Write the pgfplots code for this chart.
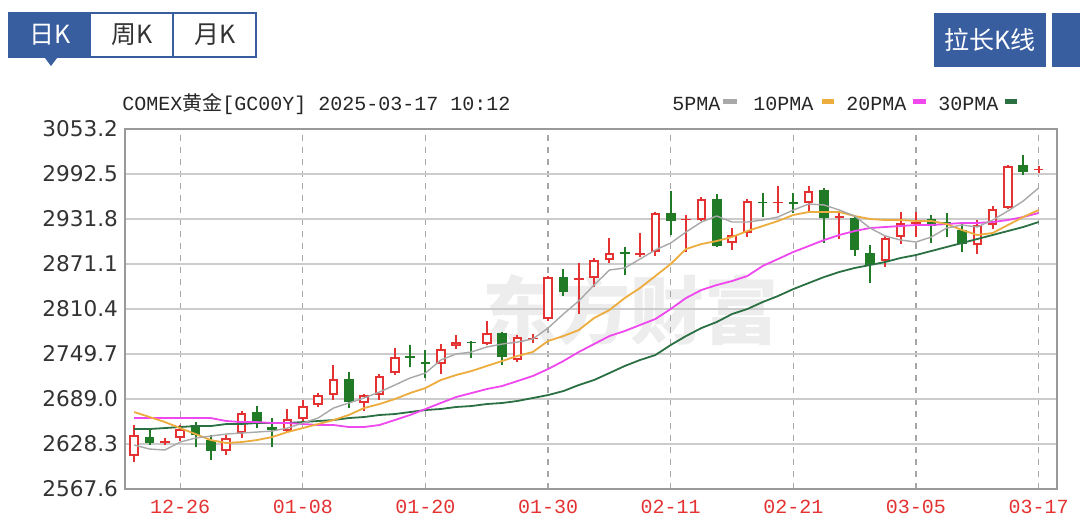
\documentclass[border=0pt]{standalone}
\usepackage{fontspec}
\usepackage{pgfplots}
\usepackage{pgfplotstable}
\pgfplotsset{compat=1.18}
\setmainfont{DejaVu Sans}
\newfontfamily\cjk{Noto Sans CJK SC}
\newfontfamily\mono{Liberation Mono}
\definecolor{cred}{RGB}{228,50,50}
\definecolor{cgreen}{RGB}{32,122,38}
\definecolor{ma5c}{RGB}{168,168,168}
\definecolor{ma10c}{RGB}{236,172,62}
\definecolor{ma20c}{RGB}{238,72,238}
\definecolor{ma30c}{RGB}{42,112,66}
\definecolor{tabblue}{RGB}{56,94,160}

\pgfplotstableread{
i ma5 ma10 ma20 ma30
0 2626.9 2671.4 2663.3 2648.5
1 2621.5 2664.7 2663.3 2648.5
2 2620.2 2657.9 2663.3 2649.8
3 2630.9 2649.8 2663.3 2651.2
4 2636.3 2641.7 2663.3 2652.5
5 2639.0 2633.6 2663.3 2652.5
6 2641.7 2629.6 2659.3 2655.2
7 2643.1 2630.9 2657.9 2655.2
8 2644.4 2633.6 2657.9 2656.6
9 2645.8 2637.7 2656.6 2656.6
10 2649.8 2644.4 2656.6 2656.6
11 2656.6 2649.8 2655.2 2657.9
12 2663.3 2655.2 2653.9 2659.3
13 2676.8 2660.6 2653.9 2660.6
14 2683.6 2667.4 2651.2 2663.3
15 2690.3 2676.8 2651.2 2664.7
16 2698.4 2682.2 2653.9 2667.4
17 2707.8 2688.9 2660.6 2668.7
18 2717.3 2697.0 2667.4 2671.4
19 2724.0 2703.8 2675.5 2674.1
20 2741.6 2714.6 2683.6 2675.5
21 2749.7 2721.3 2691.6 2678.2
22 2752.4 2726.7 2697.0 2679.5
23 2759.1 2733.5 2702.4 2682.2
24 2763.1 2740.2 2706.5 2683.6
25 2765.8 2747.0 2713.2 2686.3
26 2769.9 2752.4 2720.0 2690.3
27 2784.7 2767.2 2729.4 2694.3
28 2803.6 2773.9 2740.2 2699.7
29 2821.2 2782.0 2752.4 2707.8
30 2842.7 2798.2 2763.1 2714.6
31 2863.0 2809.0 2773.9 2724.0
32 2865.7 2825.2 2780.7 2733.5
33 2877.8 2838.7 2788.8 2741.6
34 2890.0 2854.9 2796.9 2748.3
35 2899.4 2871.1 2810.4 2761.8
36 2914.2 2891.3 2825.2 2773.9
37 2927.7 2898.0 2836.0 2784.7
38 2935.8 2902.1 2842.7 2792.8
39 2927.7 2907.5 2848.1 2803.6
40 2927.7 2915.6 2854.9 2810.4
41 2930.4 2922.3 2868.4 2819.8
42 2934.5 2929.1 2877.8 2827.9
43 2943.9 2937.2 2887.3 2837.3
44 2952.0 2941.2 2895.3 2845.4
45 2950.7 2941.2 2903.4 2853.5
46 2943.9 2941.2 2910.2 2860.3
47 2935.8 2935.8 2915.6 2865.7
48 2919.6 2931.8 2919.6 2869.7
49 2908.8 2930.4 2921.0 2873.8
50 2903.4 2930.4 2922.3 2879.2
51 2900.7 2929.1 2923.7 2883.2
52 2907.5 2929.1 2923.7 2888.6
53 2919.6 2925.0 2925.0 2894.0
54 2923.7 2916.9 2926.4 2899.4
55 2921.0 2910.2 2926.4 2904.8
56 2930.4 2912.9 2927.7 2910.2
57 2942.6 2923.7 2930.4 2915.6
58 2956.1 2934.5 2934.5 2921.0
59 2973.6 2943.9 2939.9 2927.7
}\matable

% candle: index, open, high, low, close
\newcommand\candle[5]{%
  \pgfmathsetmacro\cLo{min(#2,#5)}%
  \pgfmathsetmacro\cHi{max(#2,#5)}%
  \pgfmathsetmacro\cDiff{max(#2,#5)-min(#2,#5)}%
  \ifdim #5pt<#2pt
    \edef\doplot{%
      \noexpand\addplot[cgreen, line width=1pt, mark=none] coordinates {(#1,#4) (#1,#3)};
      \noexpand\addplot[cgreen, line width=4.8pt, mark=none] coordinates {(#1,\cLo) (#1,\cHi)};}%
  \else
    \ifdim \cDiff pt>3.5pt
      \edef\doplot{%
        \noexpand\addplot[cred, line width=1pt, mark=none] coordinates {(#1,#4) (#1,#3)};
        \noexpand\addplot[cred, line width=4.8pt, mark=none] coordinates {(#1,\cLo) (#1,\cHi)};
        \noexpand\addplot[white, line width=2.8pt, mark=none, shorten >=1pt, shorten <=1pt] coordinates {(#1,\cLo) (#1,\cHi)};}%
    \else
      \edef\doplot{%
        \noexpand\addplot[cred, line width=1pt, mark=none] coordinates {(#1,#4) (#1,#3)};
        \noexpand\addplot[cred, line width=4.8pt, mark=none] coordinates {(#1,\cLo) (#1,\cHi)};}%
    \fi
  \fi
  \doplot
}

\begin{document}
\begin{tikzpicture}
\path[use as bounding box, fill=white] (0,0) rectangle (540pt,264pt);

% tabs
\draw[tabblue, line width=0.8pt] (4.5pt,235.5pt) rectangle (128pt,257.5pt);
\fill[tabblue] (4.5pt,235.5pt) rectangle (45.5pt,257.5pt);
\fill[tabblue] (22pt,235.6pt) -- (29pt,235.6pt) -- (25.5pt,231pt) -- cycle;
\draw[tabblue, line width=0.8pt] (86.5pt,235.5pt) -- (86.5pt,257.5pt);
\node[text=white, font=\cjk\fontsize{12.5}{14}\selectfont] at (25pt,246.5pt) {日K};
\node[text=black!80, font=\cjk\fontsize{12.5}{14}\selectfont] at (66pt,246.5pt) {周K};
\node[text=black!80, font=\cjk\fontsize{12.5}{14}\selectfont] at (107.5pt,246.5pt) {月K};
\fill[tabblue] (467pt,230.5pt) rectangle (523pt,257.5pt);
\fill[tabblue] (526pt,230.5pt) rectangle (560pt,257.5pt);
\node[text=white, font=\cjk\fontsize{12.5}{14}\selectfont] at (495pt,244pt) {拉长K线};

% watermark
\node[text=black!7, font=\cjk\bfseries\fontsize{37}{40}\selectfont] at (315pt,109pt) {东方财富};

% title and legend
\node[anchor=base west, inner sep=0pt, font=\mono\fontsize{10}{12}\selectfont, text=black!85] at (61pt,208.5pt) {COMEX{\cjk 黄金}[GC00Y] 2025-03-17 10:12};
\begin{scope}[font=\mono\fontsize{10}{12}\selectfont, text=black!85]
\node[anchor=base west, inner sep=0pt] at (336pt,208.5pt) {5PMA};
\fill[ma5c] (361.5pt,212pt) rectangle (368.5pt,214.5pt);
\node[anchor=base west, inner sep=0pt] at (376.5pt,208.5pt) {10PMA};
\fill[ma10c] (411pt,212pt) rectangle (417pt,214.5pt);
\node[anchor=base west, inner sep=0pt] at (423pt,208.5pt) {20PMA};
\fill[ma20c] (456.5pt,212pt) rectangle (463pt,214.5pt);
\node[anchor=base west, inner sep=0pt] at (469pt,208.5pt) {30PMA};
\fill[ma30c] (502.5pt,212pt) rectangle (508.5pt,214.5pt);
\end{scope}

\begin{axis}[
  at={(62.5pt,19.5pt)}, anchor=south west,
  width=466pt, height=180pt, scale only axis,
  xmin=-0.6, xmax=60.2, ymin=2567.6, ymax=3053.2,
  ytick={2567.6,2628.3,2689.0,2749.7,2810.4,2871.1,2931.8,2992.5,3053.2},
  yticklabels={2567.6,2628.3,2689.0,2749.7,2810.4,2871.1,2931.8,2992.5,3053.2},
  xtick={3,11,19,27,35,43,51,59},
  xticklabels={12-26,01-08,01-20,01-30,02-11,02-21,03-05,03-17},
  xmajorgrids, ymajorgrids,
  x grid style={black!35, line width=0.6pt, dash pattern=on 3pt off 3pt},
  y grid style={black!20, line width=0.9pt},
  axis line style={black!40, line width=1pt},
  major tick length=0pt,
  yticklabel style={font=\fontsize{10.8}{12}\selectfont, text=black!80},
  xticklabel style={font=\mono\fontsize{10}{12}\selectfont, text=cred, yshift=-2pt},
]
\candle{0}{2612.1}{2653.9}{2604.0}{2640.4}
\candle{1}{2637.7}{2649.9}{2627.0}{2629.6}
\candle{2}{2630.3}{2636.4}{2627.0}{2631.7}
\candle{3}{2636.4}{2653.9}{2632.3}{2648.5}
\candle{4}{2653.9}{2658.0}{2624.3}{2640.4}
\candle{5}{2633.7}{2640.4}{2606.7}{2618.9}
\candle{6}{2618.9}{2640.4}{2613.5}{2636.4}
\candle{7}{2643.1}{2672.8}{2636.4}{2670.1}
\candle{8}{2671.5}{2679.6}{2649.9}{2655.3}
\candle{9}{2651.2}{2663.4}{2624.3}{2647.2}
\candle{10}{2645.8}{2675.5}{2643.1}{2662.0}
\candle{11}{2662.0}{2687.6}{2656.7}{2679.6}
\candle{12}{2680.9}{2697.1}{2678.2}{2694.4}
\candle{13}{2694.4}{2734.8}{2687.6}{2716.0}
\candle{14}{2716.0}{2725.4}{2676.9}{2684.9}
\candle{15}{2683.6}{2695.7}{2672.8}{2694.4}
\candle{16}{2694.4}{2722.7}{2687.6}{2720.0}
\candle{17}{2724.1}{2757.8}{2721.4}{2745.6}
\candle{18}{2747.0}{2761.8}{2732.2}{2744.3}
\candle{19}{2738.9}{2755.1}{2717.3}{2736.2}
\candle{20}{2736.2}{2763.2}{2722.7}{2756.4}
\candle{21}{2760.5}{2775.3}{2756.4}{2765.9}
\candle{22}{2765.9}{2766.6}{2744.3}{2763.9}
\candle{23}{2763.2}{2794.2}{2761.8}{2778.0}
\candle{24}{2778.0}{2779.4}{2734.8}{2745.6}
\candle{25}{2741.6}{2775.3}{2738.9}{2772.6}
\candle{26}{2769.9}{2776.7}{2764.6}{2771.3}
\candle{27}{2796.9}{2854.9}{2794.2}{2853.6}
\candle{28}{2853.6}{2864.3}{2827.9}{2833.3}
\candle{29}{2849.5}{2872.4}{2803.6}{2852.2}
\candle{30}{2852.2}{2879.2}{2840.1}{2876.5}
\candle{31}{2876.5}{2906.2}{2872.4}{2885.9}
\candle{32}{2887.3}{2894.0}{2856.3}{2884.6}
\candle{33}{2883.2}{2912.9}{2880.5}{2885.9}
\candle{34}{2887.3}{2941.2}{2881.9}{2939.9}
\candle{35}{2939.9}{2969.6}{2910.2}{2929.1}
\candle{36}{2930.4}{2937.2}{2887.3}{2931.8}
\candle{37}{2930.4}{2961.5}{2929.1}{2958.8}
\candle{38}{2958.8}{2965.5}{2894.0}{2895.4}
\candle{39}{2899.4}{2919.7}{2890.0}{2910.2}
\candle{40}{2912.9}{2958.8}{2907.5}{2956.1}
\candle{41}{2954.7}{2966.9}{2934.5}{2953.4}
\candle{42}{2953.4}{2976.3}{2939.9}{2954.7}
\candle{43}{2954.7}{2966.9}{2939.9}{2952.0}
\candle{44}{2953.4}{2976.3}{2939.9}{2969.6}
\candle{45}{2970.9}{2973.6}{2899.4}{2933.1}
\candle{46}{2933.8}{2939.9}{2904.8}{2935.2}
\candle{47}{2933.1}{2935.8}{2881.9}{2890.0}
\candle{48}{2885.9}{2896.7}{2845.5}{2869.7}
\candle{49}{2875.1}{2908.9}{2867.1}{2906.2}
\candle{50}{2907.5}{2941.2}{2898.1}{2926.4}
\candle{51}{2925.7}{2941.2}{2907.5}{2927.1}
\candle{52}{2931.8}{2937.2}{2899.4}{2922.3}
\candle{53}{2927.7}{2939.9}{2907.5}{2926.4}
\candle{54}{2917.0}{2927.7}{2887.3}{2898.1}
\candle{55}{2896.7}{2930.4}{2884.6}{2923.7}
\candle{56}{2923.7}{2949.3}{2918.3}{2945.3}
\candle{57}{2946.6}{3004.6}{2945.3}{3003.3}
\candle{58}{3004.6}{3018.1}{2991.2}{2995.2}
\candle{59}{2997.9}{3002.6}{2993.8}{2999.2}

\addplot[ma30c, line width=0.9pt, mark=none] table[x=i, y=ma30] {\matable};
\addplot[ma20c, line width=0.9pt, mark=none] table[x=i, y=ma20] {\matable};
\addplot[ma10c, line width=0.9pt, mark=none] table[x=i, y=ma10] {\matable};
\addplot[ma5c, line width=0.7pt, mark=none] table[x=i, y=ma5] {\matable};
\end{axis}
\end{tikzpicture}
\end{document}
